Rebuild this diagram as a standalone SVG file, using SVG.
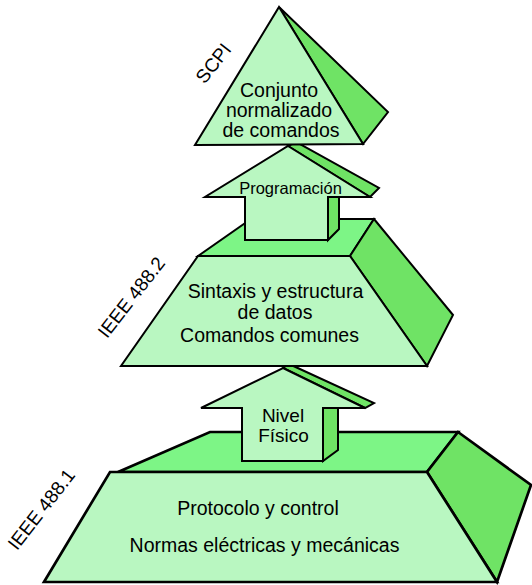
<svg xmlns="http://www.w3.org/2000/svg" width="532" height="585" viewBox="0 0 532 585">
  <style>
    .front { fill: #b9f7c1; stroke: #000; stroke-width: 2; }
    .top { fill: #7df586; stroke: #000; stroke-width: 2; }
    .side { fill: #6fe365; stroke: #000; stroke-width: 2; }
    .thick { stroke-width: 2.7; }
    text { font-family: "Liberation Sans", Arial, sans-serif; fill: #000; text-anchor: middle; }
    .body { font-size: 19.5px; }
    .lbl { font-size: 19px; }
  </style>
  <rect width="532" height="585" fill="#fff"/>

  <!-- Base level: physical layer block -->
  <g id="ieee4881-block">
    <polygon class="top thick" points="118,472 210,432 458,432 427,472"/>
    <polygon class="side thick" points="458,432 531,485 497,582 427,472"/>
    <polygon class="front thick" points="110,472 427,472 497,582 44,582"/>
    <text class="body" x="258" y="515">Protocolo y control</text>
    <text class="body" x="264.5" y="552">Normas eléctricas y mecánicas</text>
  </g>

  <!-- Connectors: upward arrows between levels -->
  <g id="connectors">
    <g id="arrow-nivel-fisico">
      <polygon class="side" points="283,368 289,364 374,403 365,408"/>
      <polygon class="side" points="323,408 338,408 338,450 323,461"/>
      <polygon class="front" points="283,368 365,408 323,408 323,461 242,461 242,408 201,408"/>
      <text class="lbl" x="283" y="422">Nivel</text>
      <text class="lbl" x="283.5" y="442">Físico</text>
    </g>
  </g>

  <!-- Middle level: syntax and common commands -->
  <g id="ieee4882-block">
    <polygon class="top" points="198,256 251,219 374,219 350,256"/>
    <polygon class="side" points="374,219 453,315 427,366 350,256"/>
    <polygon class="front" points="198,256 350,256 427,366 121,366"/>
    <text class="body" x="275.5" y="298">Sintaxis y estructura</text>
    <text class="body" x="275" y="319">de datos</text>
    <text class="body" x="269.5" y="342">Comandos comunes</text>
  </g>

  <g id="connectors-upper">
    <g id="arrow-programacion">
      <polygon class="side" points="288,146 296,142 379,188 370,197"/>
      <polygon class="side" points="328,197 339,197 339,229 328,240"/>
      <polygon class="front" points="288,146 370,197 328,197 328,240 245,240 245,197 205,197"/>
      <text x="290.5" y="194" font-size="16.5px">Programación</text>
    </g>
  </g>

  <!-- Top level: standard command set -->
  <g id="scpi-block">
    <polygon class="side" points="279,7 388,112 363,144"/>
    <polygon class="front" points="279,7 363,144 195,145"/>
    <text class="body" x="279" y="97">Conjunto</text>
    <text class="body" x="279" y="117">normalizado</text>
    <text class="body" x="281" y="137">de comandos</text>
  </g>

  <!-- Standard labels along the left side -->
  <g id="labels">
    <text class="lbl" transform="translate(213,63) rotate(-52)" x="0" y="7">SCPI</text>
    <text class="lbl" transform="translate(131,297) rotate(-52)" x="0" y="7">IEEE 488.2</text>
    <text class="lbl" transform="translate(41,509) rotate(-52)" x="0" y="7">IEEE 488.1</text>
  </g>
</svg>
